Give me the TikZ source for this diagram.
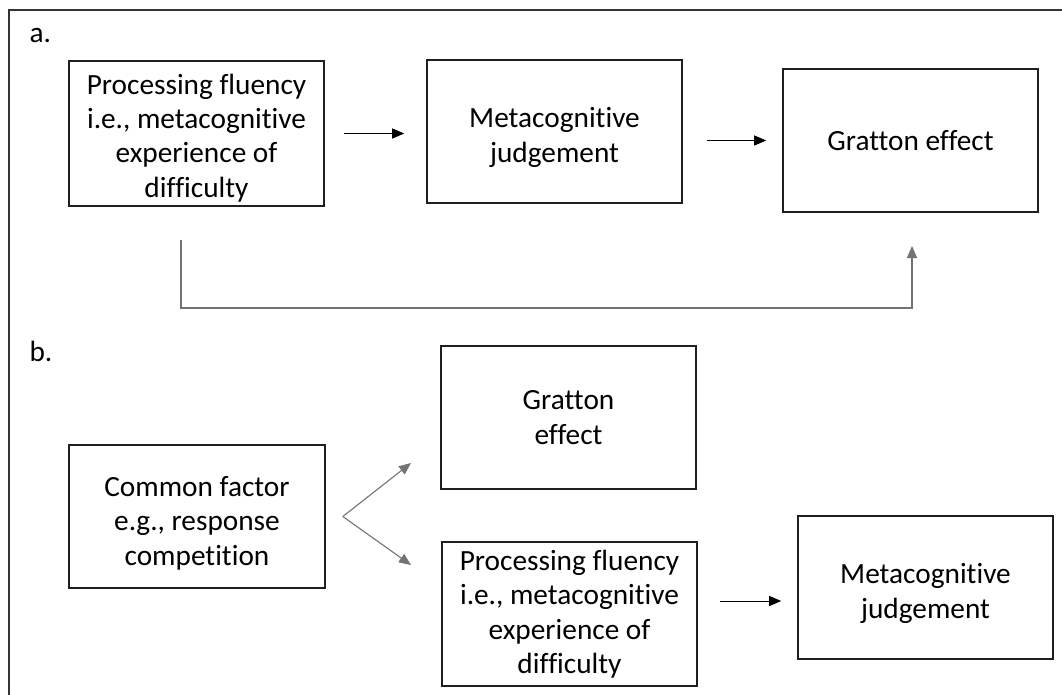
\documentclass[tikz,border=0pt]{standalone}
\usepackage{fontspec}
\setmainfont{Carlito}[Ligatures=NoCommon]
\usetikzlibrary{arrows.meta,calc}

% invisible strut that pushes a text block slightly down inside its box
\newcommand\topstrut[1]{\rule{0pt}{#1}}

\tikzset{
  box/.style={draw=black!88, line width=1.6pt, minimum width=#1, align=center,
    inner sep=0pt, font=\fontsize{29.3}{34.4}\selectfont, text=black},
  arr/.style={draw=black, line width=1pt,
    -{Triangle[length=12pt,width=10pt]}},
  greyarr/.style={draw=black!55, line width=1.1pt,
    -{Triangle[length=12pt,width=10pt]}},
  panel/.style={font=\fontsize{29.3}{34.4}\selectfont, text=black, anchor=west},
}

\begin{document}
\begin{tikzpicture}[x=1pt,y=-1pt]
  \useasboundingbox (0,0) rectangle (1062,695);
  \fill[white] (0,0) rectangle (1062,695);

  % outer frame (left and top edges)
  \draw[black!80, line width=1.3pt] (9,695) -- (9,10) -- (1062,10);

  % panel labels
  \node[panel] (la) at (26,35) {a.};
  \node[panel] (lb) at (26,351) {b.};

  % panel a
  \node[box=255pt, minimum height=145pt] (A1) at (196.5,133.5)
    {\topstrut{29pt}Processing fluency\\i.e., metacognitive\\experience of\\difficulty};
  \node[box=255pt, minimum height=143pt] (A2) at (554.5,131.5)
    {\topstrut{32pt}Metacognitive\\judgement};
  \node[box=255pt, minimum height=143pt] (A3) at (910.5,140.5)
    {Gratton effect};

  \draw[arr, shorten <=19pt, shorten >=22pt] (A1.east) -- (A1.east -| A2.west);
  \draw[arr, shorten <=24pt, shorten >=16pt] (A3.west -| A2.east) -- (A3.west);

  \coordinate (loopstart) at (181,240);
  \coordinate (loopend) at (912,246);
  \draw[greyarr] (loopstart) -- ++(0,68) -| (loopend);

  % panel b
  \node[box=256pt, minimum height=143pt] (B1) at (197,516.5)
    {\topstrut{33pt}Common factor\\e.g., response\\competition};
  \node[box=255pt, minimum height=143pt] (B2) at (568.5,417.5)
    {Gratton\\effect};
  \node[box=255pt, minimum height=144pt] (B3) at (569.5,614)
    {Processing fluency\\i.e., metacognitive\\experience of\\difficulty};
  \node[box=255pt, minimum height=143pt] (B4) at (925.5,587.5)
    {\topstrut{32pt}Metacognitive\\judgement};

  \coordinate (fork) at ($(B1.east)+(17,0)$);
  \coordinate (up) at (411,463);
  \coordinate (down) at (411,565);
  \draw[greyarr] (fork) -- (up);
  \draw[greyarr] (fork) -- (down);

  \coordinate (bs) at (720,601);
  \draw[arr, shorten >=16pt] (bs) -- (bs -| B4.west);
\end{tikzpicture}
\end{document}
